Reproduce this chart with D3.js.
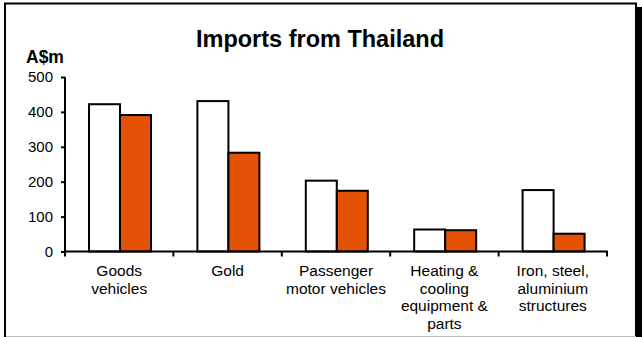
<!DOCTYPE html>
<html>
<head>
<meta charset="utf-8">
<script src="https://cdn.jsdelivr.net/npm/d3@7"></script>
<style>
  html, body { margin: 0; padding: 0; background: #fff; }
  svg { display: block; font-family: "Liberation Sans", Arial, sans-serif; }
</style>
</head>
<body>
<svg id="chart" width="642" height="337"></svg>
<script>
const categories = [
  ["Goods", "vehicles"],
  ["Gold"],
  ["Passenger", "motor vehicles"],
  ["Heating &", "cooling", "equipment &", "parts"],
  ["Iron, steel,", "aluminium", "structures"]
];
const seriesNames = ["Earlier period", "Later period"];
const seriesA = [422, 431, 203, 63, 176];
const seriesB = [391, 283, 174, 61, 51];
const yTicks = [0, 100, 200, 300, 400, 500];
const title = "Imports from Thailand";
const yUnit = "A$m";

const svg = d3.select("#chart");
const colors = ["#ffffff", "#e35205"];

// frame
svg.append("rect").attr("x", 637).attr("y", 7).attr("width", 5).attr("height", 330).attr("fill", "#000");
svg.append("rect").attr("x", 5).attr("y", 3.5).attr("width", 631).attr("height", 340)
  .attr("fill", "#fff").attr("stroke", "#000").attr("stroke-width", 2);
svg.append("line").attr("x1", 6).attr("x2", 636).attr("y1", 336.5).attr("y2", 336.5)
  .attr("stroke", "#bbb").attr("stroke-width", 1);

const x0 = d3.scaleBand().domain(d3.range(categories.length)).range([65, 607]).padding(0);
const x1 = d3.scaleBand().domain([0, 1]).range([24, 86]).padding(0);
const y = d3.scaleLinear().domain([0, 500]).range([251.5, 77]);

// title
svg.append("text").attr("x", 320).attr("y", 47).attr("text-anchor", "middle")
  .attr("font-size", 23.5).attr("font-weight", "bold").text(title);
svg.append("text").attr("x", 26).attr("y", 63)
  .attr("font-size", 17.5).attr("font-weight", "bold").text(yUnit);

// bars
const data = categories.map((c, i) => [seriesA[i], seriesB[i]]);
const groups = svg.append("g").selectAll("g").data(data).join("g")
  .attr("transform", (d, i) => `translate(${x0(i)},0)`);
groups.selectAll("rect").data(d => d).join("rect")
  .attr("x", (d, j) => x1(j))
  .attr("y", d => y(d))
  .attr("width", x1.bandwidth())
  .attr("height", d => y(0) - y(d))
  .attr("fill", (d, j) => colors[j])
  .attr("stroke", "#000").attr("stroke-width", 2);

// y axis
const yAxis = d3.axisLeft(y).tickValues(yTicks).tickSize(4).tickPadding(8);
const gy = svg.append("g").attr("transform", "translate(65,0)").call(yAxis);
gy.select(".domain").attr("stroke-width", 2).attr("d", `M0,${y(500)}V${y(0)}`);
gy.selectAll(".tick line").attr("stroke-width", 2);
gy.selectAll(".tick text").attr("font-size", 15).attr("fill", "#000")
  .attr("font-family", "Liberation Sans, Arial, sans-serif");

// x axis
const tickPos = d3.range(categories.length + 1).map(i => 65 + i * x0.bandwidth());
const gx = svg.append("g");
gx.append("line").attr("x1", 64).attr("x2", 608).attr("y1", y(0)).attr("y2", y(0))
  .attr("stroke", "#000").attr("stroke-width", 2);
gx.selectAll("line.tk").data(tickPos).join("line").attr("class", "tk")
  .attr("x1", d => d).attr("x2", d => d).attr("y1", y(0)).attr("y2", y(0) + 5)
  .attr("stroke", "#000").attr("stroke-width", 2);

const labels = svg.append("g").selectAll("text").data(categories).join("text")
  .attr("text-anchor", "middle").attr("font-size", 15.5)
  .attr("x", (d, i) => x0(i) + x0.bandwidth() / 2)
  .attr("y", 276);
labels.selectAll("tspan").data(d => d).join("tspan")
  .attr("x", function() { return this.parentNode.getAttribute("x"); })
  .attr("dy", (d, k) => k === 0 ? 0 : 17.6)
  .text(d => d);
</script>
</body>
</html>
